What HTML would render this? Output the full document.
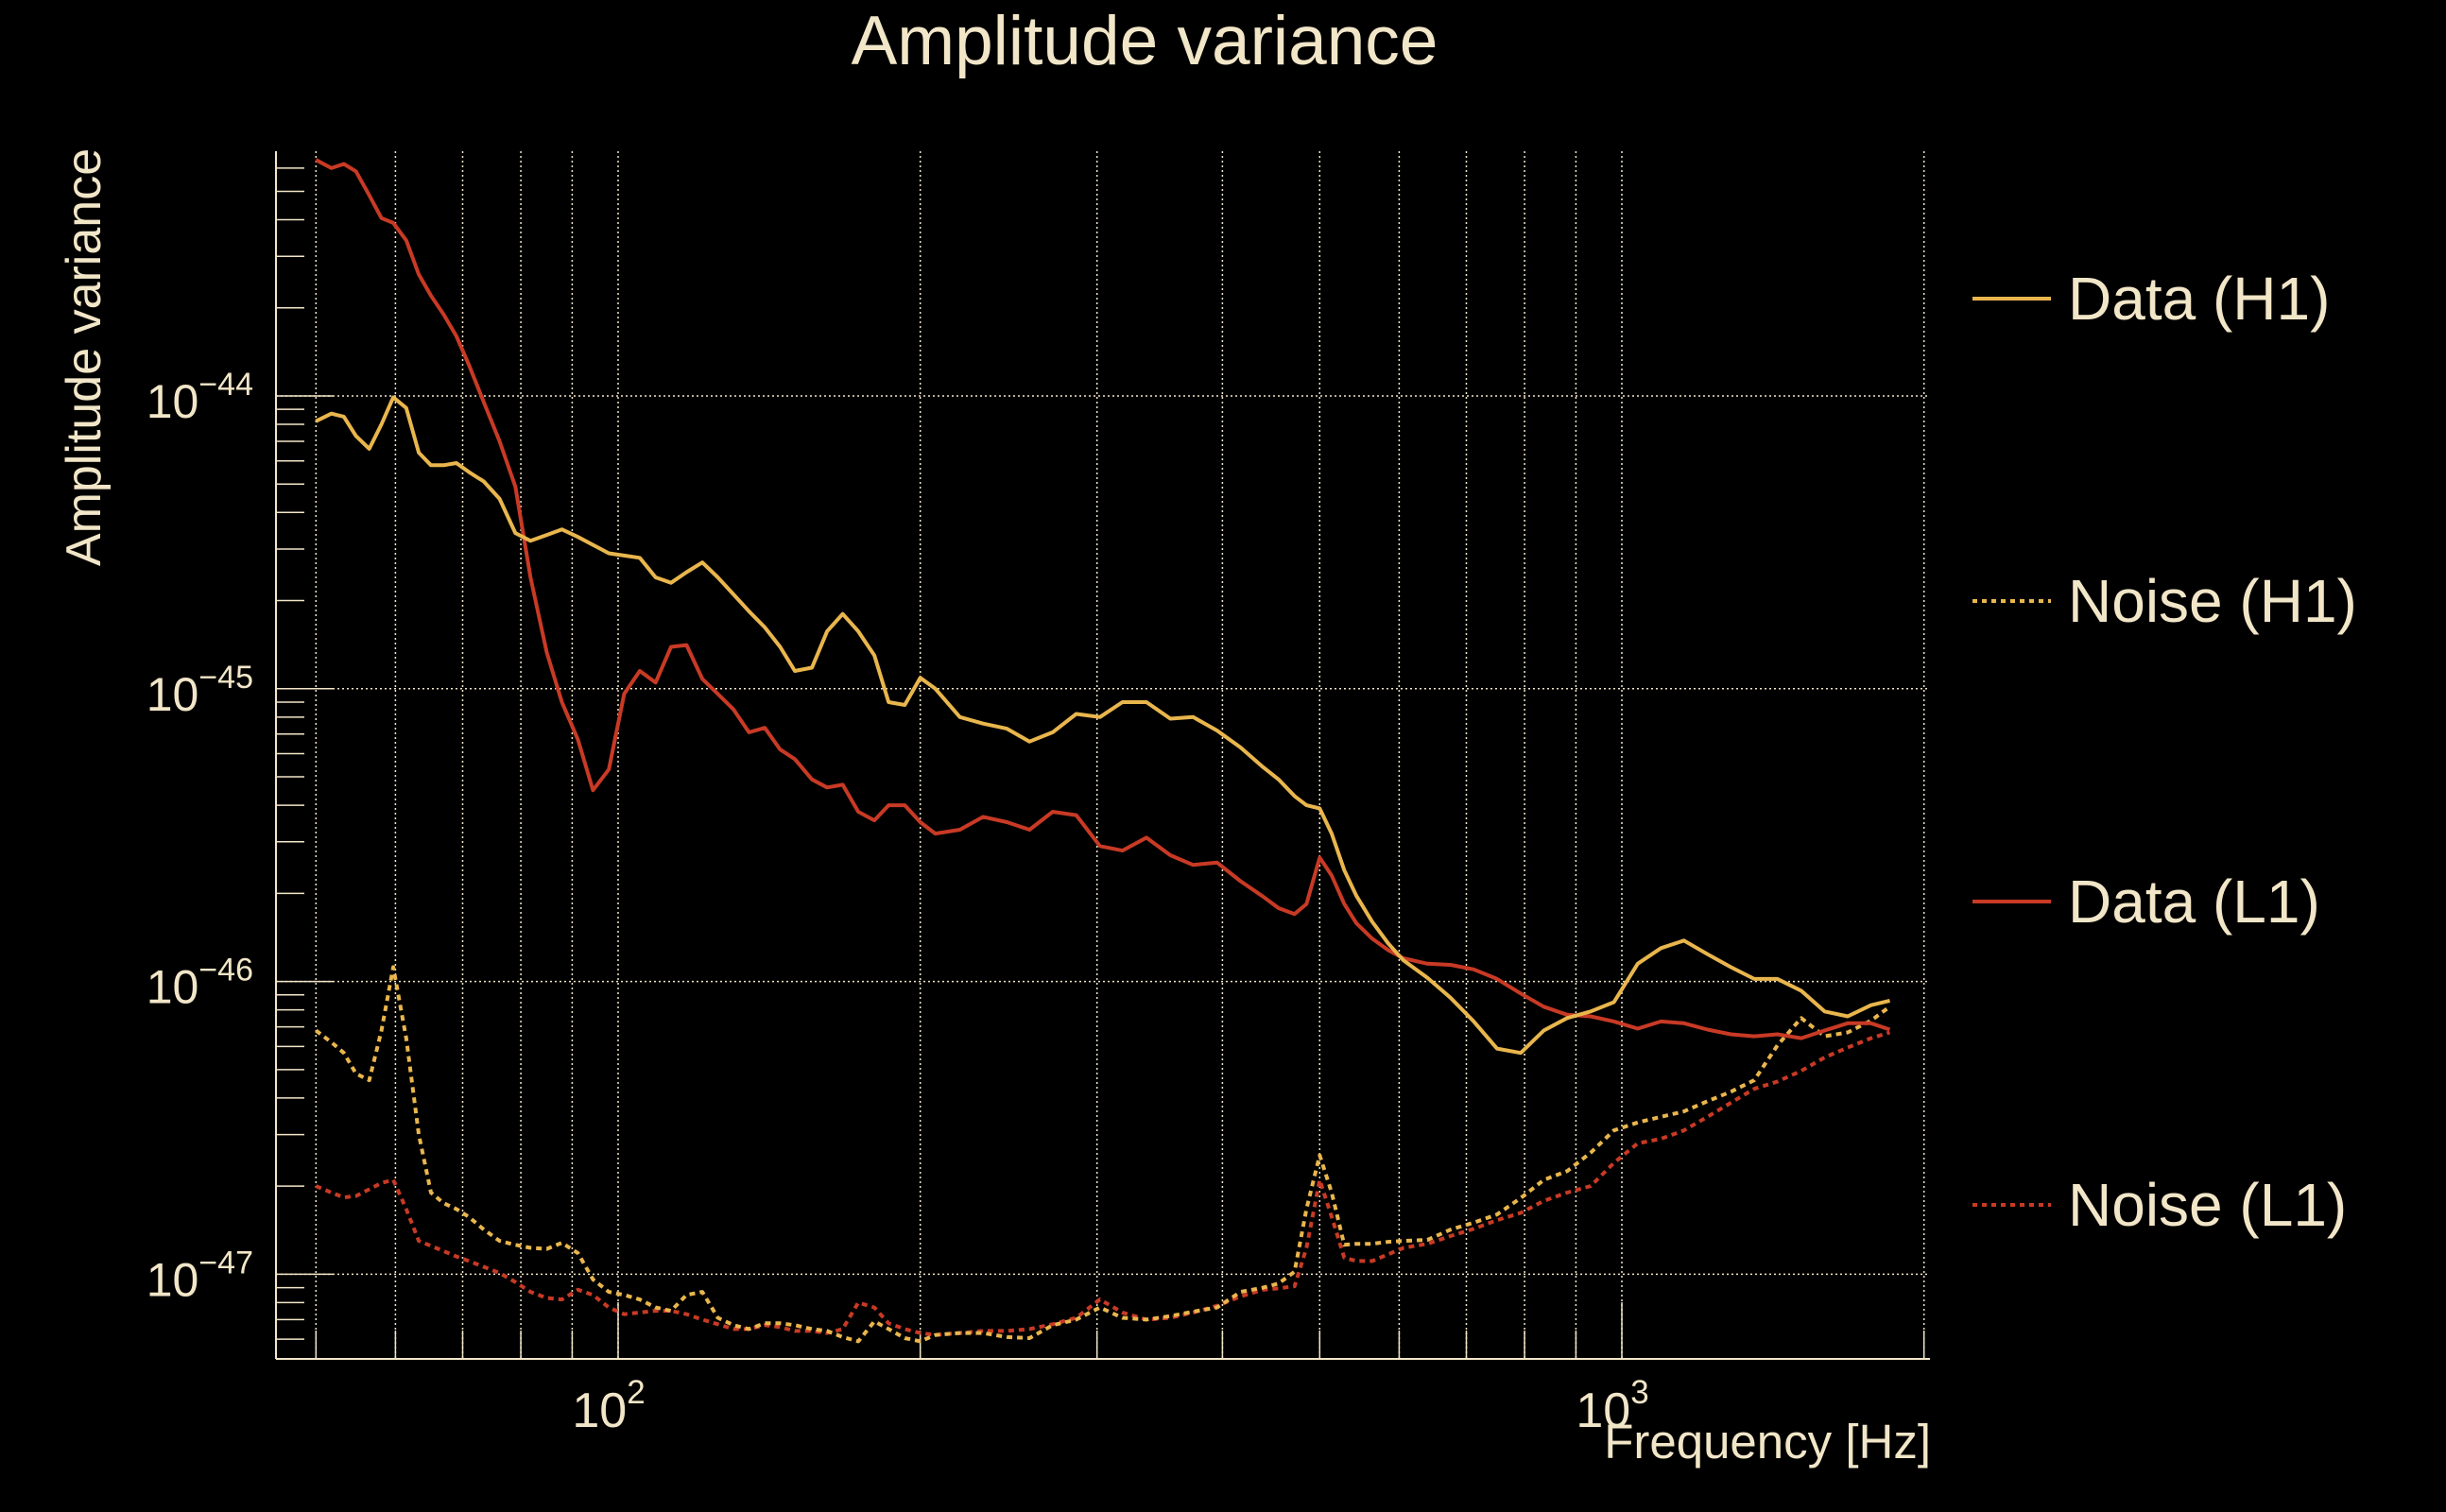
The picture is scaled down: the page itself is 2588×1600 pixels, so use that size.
<!DOCTYPE html>
<html><head><meta charset="utf-8"><title>Amplitude variance</title>
<style>html,body{margin:0;padding:0;background:#000;}svg{display:block;}</style></head>
<body>
<svg id="chart" width="2588" height="1600" xmlns="http://www.w3.org/2000/svg" font-family="Liberation Sans, sans-serif">
<rect width="2588" height="1600" fill="#000"/>
<text x="1211" y="68" font-size="73" fill="#f2e6c8" text-anchor="middle">Amplitude variance</text>
<text transform="translate(106,378) rotate(-90)" font-size="52" fill="#f2e6c8" text-anchor="middle">Amplitude variance</text>
<g id="grid"></g>
<g id="axes"></g>
<g id="series"></g>
<text x="2043" y="1543" font-size="51" fill="#f2e6c8" text-anchor="end">Frequency [Hz]</text>
<g>
  <g><line x1="2087" y1="316" x2="2170" y2="316" stroke="#e9b64d" stroke-width="4"/><text x="2188" y="338" font-size="64" fill="#f2e6c8">Data (H1)</text></g>
  <g><line x1="2087" y1="636" x2="2170" y2="636" stroke="#e9b64d" stroke-width="4" stroke-dasharray="5,5"/><text x="2188" y="658" font-size="64" fill="#f2e6c8">Noise (H1)</text></g>
  <g><line x1="2087" y1="954" x2="2170" y2="954" stroke="#c83a25" stroke-width="4"/><text x="2188" y="976" font-size="64" fill="#f2e6c8">Data (L1)</text></g>
  <g><line x1="2087" y1="1275" x2="2170" y2="1275" stroke="#c83a25" stroke-width="4" stroke-dasharray="5,5"/><text x="2188" y="1297" font-size="64" fill="#f2e6c8">Noise (L1)</text></g>
</g>
</svg>
<script>
const freqs = [50,51.8,53.3,54.8,56.5,58.1,59.7,61.5,63.3,65.1,67,69,71,73.5,76.2,79,81.8,84.9,87.9,91.2,94.4,97.9,101.4,105.1,109,112.9,117,121.3,125.7,130.3,135,140,145,150,156,161.5,167.4,173.5,180,186,193,200,207,219,231,244,257,271,286,302,318,336,355,374,395,417,439,455,472,485,500,514,529,544,564,585,606,640,675,712,751,793,836,882,931,982,1037,1094,1153,1217,1284,1355,1429,1509,1592,1679,1771,1849];
const dataH1 = [8.2e-45,8.7e-45,8.5e-45,7.3e-45,6.6e-45,8.0e-45,9.9e-45,9.1e-45,6.4e-45,5.8e-45,5.8e-45,5.9e-45,5.5e-45,5.1e-45,4.45e-45,3.4e-45,3.2e-45,3.35e-45,3.5e-45,3.3e-45,3.1e-45,2.9e-45,2.85e-45,2.8e-45,2.4e-45,2.3e-45,2.5e-45,2.7e-45,2.4e-45,2.1e-45,1.84e-45,1.62e-45,1.39e-45,1.15e-45,1.18e-45,1.57e-45,1.8e-45,1.57e-45,1.3e-45,9.0e-46,8.8e-46,1.09e-45,1.0e-45,8.0e-46,7.6e-46,7.3e-46,6.6e-46,7.1e-46,8.2e-46,8.0e-46,9.0e-46,9.0e-46,7.9e-46,8.0e-46,7.2e-46,6.3e-46,5.4e-46,4.9e-46,4.3e-46,4.0e-46,3.9e-46,3.2e-46,2.4e-46,1.96e-46,1.6e-46,1.35e-46,1.18e-46,1.03e-46,8.8e-47,7.3e-47,5.9e-47,5.7e-47,6.8e-47,7.5e-47,7.9e-47,8.5e-47,1.15e-46,1.3e-46,1.38e-46,1.24e-46,1.12e-46,1.02e-46,1.02e-46,9.3e-47,7.9e-47,7.6e-47,8.3e-47,8.6e-47];
const dataL1 = [6.4e-44,6.0e-44,6.2e-44,5.85e-44,4.85e-44,4.05e-44,3.9e-44,3.4e-44,2.6e-44,2.2e-44,1.9e-44,1.6e-44,1.28e-44,9.5e-45,7.0e-45,4.9e-45,2.4e-45,1.33e-45,9.0e-46,6.7e-46,4.5e-46,5.3e-46,9.6e-46,1.15e-45,1.05e-45,1.39e-45,1.41e-45,1.08e-45,9.6e-46,8.5e-46,7.1e-46,7.35e-46,6.2e-46,5.75e-46,4.9e-46,4.6e-46,4.7e-46,3.8e-46,3.55e-46,4.0e-46,4.0e-46,3.5e-46,3.2e-46,3.3e-46,3.65e-46,3.5e-46,3.3e-46,3.8e-46,3.7e-46,2.9e-46,2.8e-46,3.1e-46,2.7e-46,2.5e-46,2.55e-46,2.2e-46,1.95e-46,1.78e-46,1.7e-46,1.84e-46,2.65e-46,2.3e-46,1.84e-46,1.58e-46,1.4e-46,1.28e-46,1.2e-46,1.15e-46,1.14e-46,1.1e-46,1.02e-46,9.1e-47,8.2e-47,7.7e-47,7.6e-47,7.3e-47,6.9e-47,7.3e-47,7.2e-47,6.85e-47,6.6e-47,6.5e-47,6.6e-47,6.4e-47,6.8e-47,7.2e-47,7.2e-47,6.85e-47];
const noiseH1 = [6.8e-47,6.2e-47,5.7e-47,4.85e-47,4.6e-47,6.8e-47,1.12e-46,6.4e-47,3.0e-47,1.9e-47,1.75e-47,1.67e-47,1.57e-47,1.42e-47,1.3e-47,1.26e-47,1.23e-47,1.22e-47,1.28e-47,1.18e-47,9.6e-48,8.7e-48,8.5e-48,8.2e-48,7.7e-48,7.5e-48,8.5e-48,8.7e-48,7.1e-48,6.7e-48,6.5e-48,6.8e-48,6.8e-48,6.7e-48,6.5e-48,6.4e-48,6.1e-48,5.9e-48,6.9e-48,6.5e-48,6.05e-48,5.9e-48,6.2e-48,6.3e-48,6.3e-48,6.1e-48,6.05e-48,6.7e-48,7.0e-48,7.7e-48,7.1e-48,7.0e-48,7.2e-48,7.45e-48,7.7e-48,8.7e-48,9.0e-48,9.3e-48,1.02e-47,1.67e-47,2.55e-47,1.9e-47,1.26e-47,1.27e-47,1.27e-47,1.29e-47,1.3e-47,1.31e-47,1.42e-47,1.5e-47,1.6e-47,1.82e-47,2.1e-47,2.25e-47,2.6e-47,3.1e-47,3.3e-47,3.45e-47,3.6e-47,3.9e-47,4.2e-47,4.6e-47,6.05e-47,7.5e-47,6.5e-47,6.7e-47,7.35e-47,8.2e-47];
const noiseL1 = [2.0e-47,1.9e-47,1.83e-47,1.85e-47,1.95e-47,2.05e-47,2.1e-47,1.67e-47,1.3e-47,1.25e-47,1.2e-47,1.15e-47,1.11e-47,1.06e-47,1.01e-47,9.4e-48,8.7e-48,8.3e-48,8.2e-48,8.85e-48,8.5e-48,7.7e-48,7.3e-48,7.4e-48,7.5e-48,7.5e-48,7.3e-48,7.0e-48,6.75e-48,6.5e-48,6.5e-48,6.7e-48,6.6e-48,6.4e-48,6.4e-48,6.3e-48,6.5e-48,8.0e-48,7.7e-48,6.8e-48,6.5e-48,6.3e-48,6.2e-48,6.3e-48,6.4e-48,6.4e-48,6.5e-48,6.75e-48,7.1e-48,8.2e-48,7.4e-48,7.0e-48,7.1e-48,7.4e-48,7.8e-48,8.4e-48,8.85e-48,8.95e-48,9.1e-48,1.23e-47,2.1e-47,1.57e-47,1.14e-47,1.11e-47,1.11e-47,1.17e-47,1.23e-47,1.27e-47,1.35e-47,1.43e-47,1.53e-47,1.62e-47,1.78e-47,1.9e-47,2.0e-47,2.4e-47,2.8e-47,2.9e-47,3.1e-47,3.45e-47,3.85e-47,4.3e-47,4.55e-47,4.95e-47,5.5e-47,5.95e-47,6.4e-47,6.7e-47];
const xGridFreqs = [50,60,70,80,90,100,200,300,400,500,600,700,800,900,1000,2000];
const xTickLabels = [["10","2",100],["10","3",1000]];
const yDecades = [-47,-46,-45,-44];

const NS = "http://www.w3.org/2000/svg";
const L = 292, R = 2042, T = 160, B = 1438;
const CREAM = "#f2e6c8";
function xs(f){ return 654 + 1062*(Math.log10(f)-2); }
function ys(v){ return 419 + 309.8*(-44 - Math.log10(v)); }
function mk(tag, attrs, parent){ const e=document.createElementNS(NS,tag); for(const k in attrs) e.setAttribute(k,attrs[k]); parent.appendChild(e); return e; }

const grid = document.getElementById('grid');
const axes = document.getElementById('axes');
const series = document.getElementById('series');

xGridFreqs.forEach(f=>{
  const x = xs(f);
  const g = mk('line',{x1:x,y1:T,x2:x,y2:B,stroke:CREAM,'stroke-width':1.5,'stroke-dasharray':'2,3'},grid);
  
  
  const major = (f===100||f===1000);
  const t = mk('line',{x1:x,y1:B,x2:x,y2:B-(major?60:30),stroke:CREAM,'stroke-width':1.5},axes);
  
  
});
yDecades.forEach(e=>{
  const y = ys(Math.pow(10,e));
  const g = mk('line',{x1:L,y1:y,x2:R,y2:y,stroke:CREAM,'stroke-width':1.5,'stroke-dasharray':'2,3'},grid);
  
  
  const t = mk('line',{x1:L,y1:y,x2:L+60,y2:y,stroke:CREAM,'stroke-width':1.5},axes);
  
  
  const lab = mk('text',{x:268,y:y+23,'font-size':50,fill:CREAM,'text-anchor':'end'},axes);
  
  
  lab.appendChild(document.createTextNode('10'));
  const sup = mk('tspan',{'font-size':34,dy:-24},lab);
  sup.textContent = '\u2212' + Math.abs(e);
});
for(let e=-48;e<=-43;e++){
  for(let m=2;m<=9;m++){
    const y = ys(m*Math.pow(10,e));
    if(y<T||y>B) continue;
    const t = mk('line',{x1:L,y1:y,x2:L+30,y2:y,stroke:CREAM,'stroke-width':1.5},axes);
    
    
  }
}
xTickLabels.forEach(d=>{
  const lab = mk('text',{x:xs(d[2])-10,y:1510,'font-size':52,fill:CREAM,'text-anchor':'middle'},axes);
  
  
  lab.appendChild(document.createTextNode('10'));
  const sup = mk('tspan',{'font-size':35,dy:-25},lab);
  sup.textContent = d[1];
});
const al = mk('line',{x1:L,y1:T,x2:L,y2:B,stroke:CREAM,'stroke-width':2},axes);


const bl = mk('line',{x1:L,y1:B,x2:R,y2:B,stroke:CREAM,'stroke-width':2},axes);



function drawSeries(vals, color, dashed, name){
  const d = vals.map((v,i)=>(i?'L':'M')+xs(freqs[i]).toFixed(1)+','+ys(v).toFixed(1)).join(' ');
  const p = mk('path',{d:d,fill:'none',stroke:color,'stroke-width':4,'stroke-linejoin':'round'},series);
  if(dashed) p.setAttribute('stroke-dasharray','6,5');
  
  
}
drawSeries(noiseL1,'#c83a25',true,'noise-l1-line');
drawSeries(noiseH1,'#e9b64d',true,'noise-h1-line');
drawSeries(dataL1,'#c83a25',false,'data-l1-line');
drawSeries(dataH1,'#e9b64d',false,'data-h1-line');
</script>
</body></html>
